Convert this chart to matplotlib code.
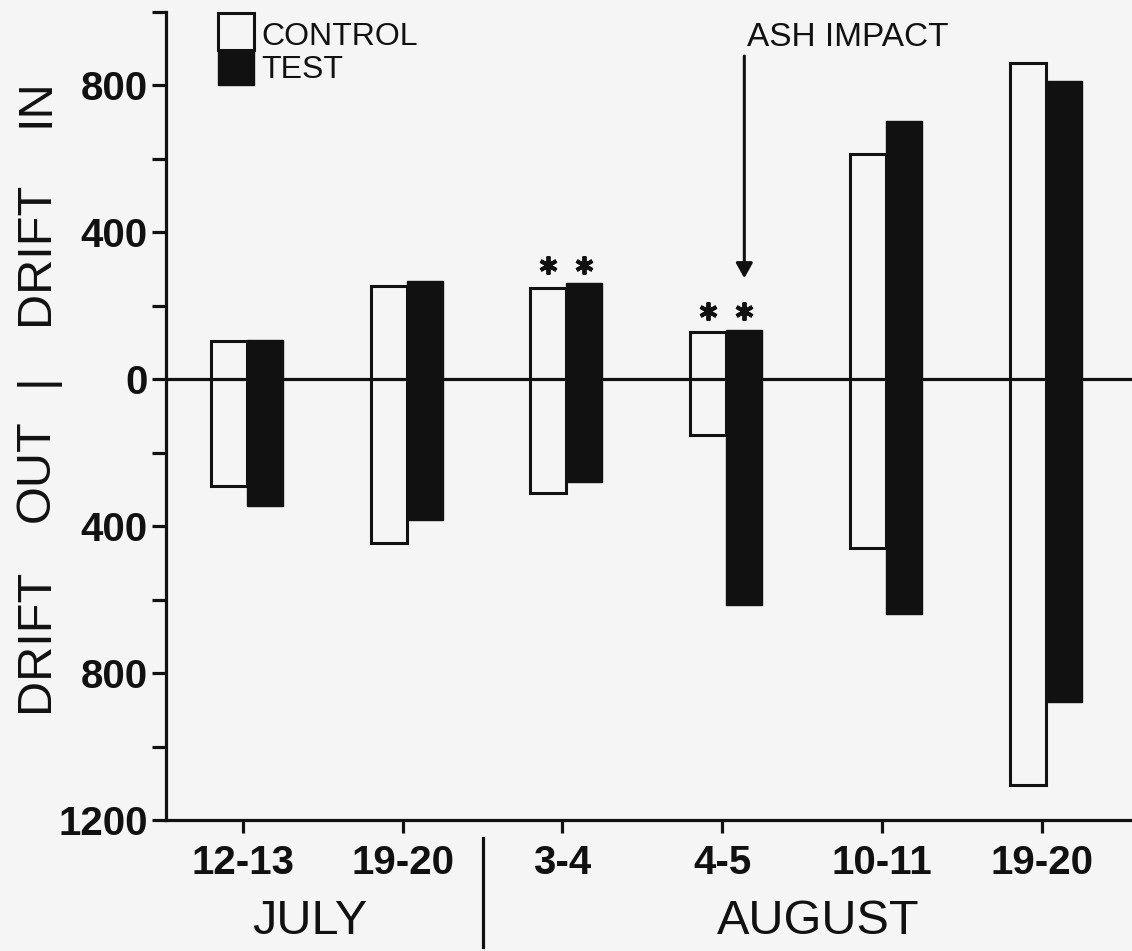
import numpy as np
import matplotlib.pyplot as plt
from matplotlib.patches import Rectangle
from matplotlib.transforms import blended_transform_factory

# sampling dates and drift counts (up = drift in, down = drift out)
dates = ['12-13', '19-20', '3-4', '4-5', '10-11', '19-20']
months = ['JULY', 'AUGUST']
control_in = [105, 255, 248, 130, 614, 862]
control_out = [290, 445, 310, 152, 460, 1106]
test_in = [108, 268, 262, 135, 702, 812]
test_out = [346, 384, 280, 615, 640, 880]
starred = [2, 3]
impact = 3

ink = '#111111'
paper = '#f4f5f4'
narrow = ['Liberation Sans', 'DejaVu Sans']
plain = ['Liberation Sans', 'DejaVu Sans']

W, H = 1132, 951
fig = plt.figure(figsize=(W / 100, H / 100), dpi=100, facecolor=paper)
ax = fig.add_axes([166 / W, 131 / H, 1 - 166 / W, 808 / H])
ax.set_facecolor(paper)

x = np.arange(len(dates))
ci, co = np.array(control_in), np.array(control_out)
ti, to = np.array(test_in), np.array(test_out)
w = 0.225
off = 0.025
xc = x + off - w / 2
xt = x + off + w / 2

ax.bar(xc, ci + co, bottom=-co, width=w, color=paper, edgecolor=ink, linewidth=2.2, zorder=2)
ax.bar(xt, ti + to, bottom=-to, width=w, color=ink, edgecolor=ink, linewidth=1, zorder=2)
ax.axhline(0, color=ink, lw=2.3, zorder=3)

# significance marks
for i in starred:
    top = max(ci[i], ti[i]) + 50
    ax.plot([xc[i], xt[i]], [top, top], ls='none', marker=(6, 2, 0), ms=13, mew=2.8, color=ink)

# ash impact arrow
ax.annotate('', xy=(xt[impact], 275), xytext=(xt[impact], 880),
            arrowprops=dict(arrowstyle='-|>,head_length=0.9,head_width=0.5', lw=2.2,
                            color=ink, shrinkA=0, shrinkB=0))
fig.text(848 / W, 1 - 37 / H, 'ASH IMPACT', family=plain, fontsize=24, color=ink,
         ha='center', va='center')

ax.set_xlim(-0.48, 5.5625)
ax.set_ylim(-1200, 1000)
yt = np.arange(-1200, 1001, 200)
ax.set_yticks(yt)
ax.set_yticklabels([str(abs(v)) if v % 400 == 0 else '' for v in yt])
ax.set_xticks(x)
ax.set_xticklabels(dates)

for s in ['top', 'right']:
    ax.spines[s].set_visible(False)
for s in ['left', 'bottom']:
    ax.spines[s].set_linewidth(2.3)
    ax.spines[s].set_color(ink)

ax.tick_params(axis='y', length=10, width=2.3, color=ink, pad=3)
ax.tick_params(axis='x', length=9, width=2.3, color=ink, pad=8)
for lab in ax.get_yticklabels():
    lab.set_family(narrow)
    lab.set_weight('bold')
    lab.set_fontsize(29)
    lab.set_color(ink)
for lab in ax.get_xticklabels():
    lab.set_family(narrow)
    lab.set_weight('bold')
    lab.set_fontsize(29)
    lab.set_color(ink)

# month labels and divider under the x axis
tr = blended_transform_factory(ax.transData, ax.transAxes)
ax.plot([1.5, 1.5], [-0.022, -0.157], color=ink, lw=2.3, transform=tr, clip_on=False)
ax.text(0.42, -0.125, months[0], transform=tr, family=plain, fontsize=35, color=ink,
        ha='center', va='center')
ax.text(3.6, -0.125, months[1], transform=tr, family=plain, fontsize=35, color=ink,
        ha='center', va='center')

# y axis title, word by word
for word, ypx in [('IN', 103), ('DRIFT', 253), ('|', 380), ('OUT', 471), ('DRIFT', 640)]:
    fig.text(36 / W, 1 - ypx / H, word, family=plain, fontsize=35, color=ink,
             rotation=90, ha='center', va='center')

# legend
fig.add_artist(Rectangle((218 / W, 1 - 50 / H), 36 / W, 37 / H, transform=fig.transFigure,
                         facecolor=paper, edgecolor=ink, lw=2.2))
fig.add_artist(Rectangle((218 / W, 1 - 85 / H), 36 / W, 35 / H, transform=fig.transFigure,
                         facecolor=ink, edgecolor=ink, lw=1))
fig.text(261 / W, 1 - 37 / H, 'CONTROL', family=plain, fontsize=23, color=ink, va='center')
fig.text(261 / W, 1 - 70 / H, 'TEST', family=plain, fontsize=23, color=ink, va='center')

fig.savefig('out.png', dpi=100, facecolor=paper)
